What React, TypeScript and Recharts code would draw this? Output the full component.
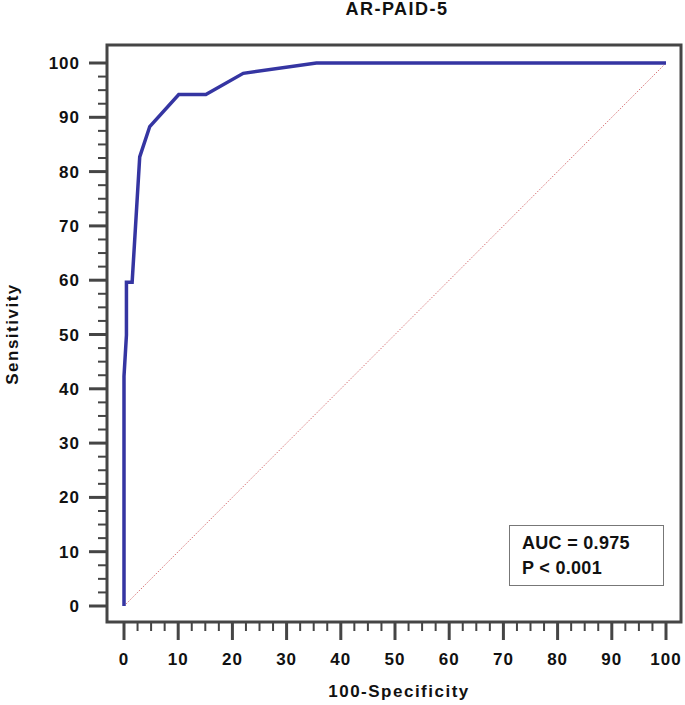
import React from "react";
import { Line, LineChart, XAxis, YAxis } from "recharts";

// ROC curve (100-specificity vs sensitivity)
const fpr = [0, 0, 0.45, 0.45, 1.5, 2.9, 4.75, 10.1, 15.1, 22, 35.5, 100];
const sens = [0, 42.3, 49.9, 59.6, 59.6, 82.7, 88.3, 94.2, 94.2, 98.1, 100, 100];
const diagX = [0, 100];
const diagY = [0, 100];

const xTicks = [
  0, 2.5, 5, 7.5, 10, 12.5, 15, 17.5, 20, 22.5, 25, 27.5, 30, 32.5, 35, 37.5, 40,
  42.5, 45, 47.5, 50, 52.5, 55, 57.5, 60, 62.5, 65, 67.5, 70, 72.5, 75, 77.5, 80,
  82.5, 85, 87.5, 90, 92.5, 95, 97.5, 100,
];
const yTicks = xTicks;

const title = "AR-PAID-5";
const xLabel = "100-Specificity";
const yLabel = "Sensitivity";
const aucText = "AUC = 0.975";
const pText = "P < 0.001";

const rocData = fpr.map((x, i) => ({ x, y: sens[i] }));
const diagData = diagX.map((x, i) => ({ x, y: diagY[i] }));

const FONT = "'Liberation Sans', Arial, sans-serif";
const AXIS = "#454545";

// plot frame (matches chart margins below)
const PLOT = { left: 107, top: 45, right: 681, bottom: 622 };

const XTick = (props: any) => {
  const { x, y, payload } = props;
  const major = payload.value % 10 === 0;
  return (
    <g>
      <line x1={x} x2={x} y1={y} y2={y + (major ? 18 : 9)} stroke={AXIS} strokeWidth={major ? 3 : 2} />
      {major && (
        <text x={x} y={y + 43} textAnchor="middle" fontFamily={FONT} fontWeight="bold" fontSize={17} letterSpacing={1} fill="#111">
          {payload.value}
        </text>
      )}
    </g>
  );
};

const YTick = (props: any) => {
  const { x, y, payload } = props;
  const major = payload.value % 10 === 0;
  return (
    <g>
      <line x1={x - (major ? 18 : 9)} x2={x} y1={y} y2={y} stroke={AXIS} strokeWidth={major ? 3 : 2} />
      {major && (
        <text x={x - 27} y={y + 6} textAnchor="end" fontFamily={FONT} fontWeight="bold" fontSize={17} letterSpacing={1} fill="#111">
          {payload.value}
        </text>
      )}
    </g>
  );
};

export default function App() {
  return (
    <div style={{ position: "absolute", left: 0, top: 0, width: 685, height: 705, background: "#fff" }}>
      <LineChart
        width={685}
        height={705}
        margin={{ top: PLOT.top, right: 685 - PLOT.right, bottom: 0, left: 0 }}
      >
        <XAxis
          dataKey="x"
          type="number"
          domain={[0, 100]}
          ticks={xTicks}
          interval={0}
          padding={{ left: 17, right: 15 }}
          height={705 - PLOT.bottom}
          tickSize={0}
          tickMargin={0}
          tickLine={false}
          tick={<XTick />}
          axisLine={false}
        />
        <YAxis
          dataKey="y"
          type="number"
          domain={[0, 100]}
          ticks={yTicks}
          interval={0}
          padding={{ top: 18, bottom: 16 }}
          width={PLOT.left}
          tickSize={0}
          tickMargin={0}
          tickLine={false}
          tick={<YTick />}
          axisLine={false}
        />
        <Line
          data={diagData}
          dataKey="y"
          type="linear"
          stroke="#d9777a"
          strokeWidth={1}
          strokeDasharray="1.5 1.5"
          dot={false}
          isAnimationActive={false}
        />
        <Line
          data={rocData}
          dataKey="y"
          type="linear"
          stroke="#3535a2"
          strokeWidth={3.5}
          strokeLinejoin="miter"
          dot={false}
          isAnimationActive={false}
        />
      </LineChart>
      <svg width={685} height={705} style={{ position: "absolute", left: 0, top: 0, pointerEvents: "none" }}>
        <rect
          x={PLOT.left}
          y={PLOT.top}
          width={PLOT.right - PLOT.left}
          height={PLOT.bottom - PLOT.top}
          fill="none"
          stroke={AXIS}
          strokeWidth={3}
        />
        <text x={397} y={15} textAnchor="middle" fontFamily={FONT} fontWeight="bold" fontSize={18} letterSpacing={1.5} fill="#111">
          {title}
        </text>
        <text x={399} y={697} textAnchor="middle" fontFamily={FONT} fontWeight="bold" fontSize={17} letterSpacing={1.5} fill="#111">
          {xLabel}
        </text>
        <text
          x={18}
          y={334}
          textAnchor="middle"
          transform="rotate(-90 18 334)"
          fontFamily={FONT}
          fontWeight="bold"
          fontSize={17}
          letterSpacing={1.5}
          fill="#111"
        >
          {yLabel}
        </text>
        <rect x={509.5} y={525.5} width={154} height={60} fill="#fff" stroke="#777" strokeWidth={1} />
        <text x={522} y={549} fontFamily={FONT} fontWeight="bold" fontSize={18} letterSpacing={0.3} fill="#111">
          {aucText}
        </text>
        <text x={522} y={574} fontFamily={FONT} fontWeight="bold" fontSize={18} letterSpacing={0.3} fill="#111">
          {pText}
        </text>
      </svg>
    </div>
  );
}
